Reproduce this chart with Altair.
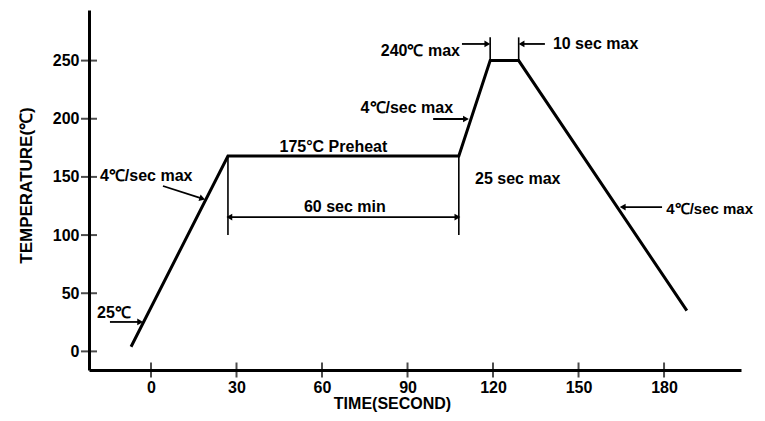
import altair as alt
import pandas as pd

# ---- data ----
profile_time = [-7, 27, 108, 119, 129, 188]
profile_temp = [4, 168, 168, 250, 250, 35]

x_ticks = [0, 30, 60, 90, 120, 150, 180]
y_ticks = [0, 50, 100, 150, 200, 250]

# guide lines (vertical markers)
guide_x1 = [27, 108, 119, 129]
guide_y1 = [168, 168, 250, 250]
guide_y2 = [100, 100, 270, 270]

# arrows: shaft start -> tip, heading angle (degrees, clockwise from right)
arrow_x1 = [-14.4, 4.2, 27, 27, 99, 109.1, 138.2, 179.3]
arrow_y1 = [25.3, 142.2, 115.5, 115.5, 199.8, 264.3, 264.3, 124.1]
arrow_x2 = [-3.8, 18.0, 107.5, 27.5, 110.5, 118.0, 130.0, 165.5]
arrow_y2 = [25.3, 131.3, 115.5, 115.5, 199.8, 264.3, 264.3, 124.1]
arrow_ang = [0, 18, 0, 180, 0, 0, 180, 180]

# annotation texts
note_text = ["25℃", "4℃/sec max", "175°C Preheat", "60 sec min", "25 sec max",
             "4℃/sec max", "240℃ max", "10 sec max"]
note_x = [-18.9, -17.9, 64, 68, 113.7, 106, 108.4, 141]
note_y = [33, 151, 176, 124, 148, 209, 258, 264.3]
note_align = ["left", "left", "center", "center", "left", "right", "right", "left"]

# right-edge annotation (drawn a little smaller so it fits the page)
edge_text = ["4℃/sec max"]
edge_x = [180.8]
edge_y = [122.4]

X_DOMAIN = [-21.75, 207]
Y_DOMAIN = [-16, 293.5]

FONT = "Liberation Sans"

xs = alt.Scale(domain=X_DOMAIN, nice=False, zero=False)
ys = alt.Scale(domain=Y_DOMAIN, nice=False, zero=False)

x_axis = alt.Axis(
    values=x_ticks, title="TIME(SECOND)", ticks=False, grid=False,
    domainColor="black", domainWidth=3, labelPadding=9,
    labelFont=FONT, labelFontWeight="bold", labelFontSize=16, labelColor="black",
    titleFont=FONT, titleFontWeight="bold", titleFontSize=16, titleColor="black",
    titleX=303, titleY=33, titleBaseline="middle", titleAlign="center")
y_axis = alt.Axis(
    values=y_ticks, title="TEMPERATURE(℃)", ticks=False, grid=False,
    domainColor="black", domainWidth=3, labelPadding=10,
    labelFont=FONT, labelFontWeight="bold", labelFontSize=16, labelColor="black",
    titleFont=FONT, titleFontWeight="bold", titleFontSize=17, titleColor="black",
    titleX=-63, titleY=175, titleBaseline="middle", titleAlign="center", titleAngle=270)


def X(field):
    return alt.X(field, scale=xs, axis=x_axis, title="TIME(SECOND)")


def Y(field):
    return alt.Y(field, scale=ys, axis=y_axis, title="TEMPERATURE(℃)")


profile = pd.DataFrame({"t": profile_time, "v": profile_temp})
guides = pd.DataFrame({"x": guide_x1, "y": guide_y1, "y2": guide_y2})
arrows = pd.DataFrame({"x": arrow_x1, "y": arrow_y1, "x2": arrow_x2,
                       "y2": arrow_y2, "ang": arrow_ang})
notes = pd.DataFrame({"label": note_text, "x": note_x, "y": note_y, "align": note_align})
edge = pd.DataFrame({"label": edge_text, "x": edge_x, "y": edge_y})
xt = pd.DataFrame({"t": x_ticks, "base": [Y_DOMAIN[0]] * len(x_ticks)})
yt = pd.DataFrame({"v": y_ticks, "base": [X_DOMAIN[0]] * len(y_ticks)})

line = alt.Chart(profile).mark_line(color="black", strokeWidth=3).encode(
    x=X("t:Q"), y=Y("v:Q"), order=alt.Order("t:Q"))

xtick = alt.Chart(xt).mark_tick(orient="vertical", size=15, thickness=2, color="black").encode(
    x=X("t:Q"), y=Y("base:Q"))
ytick = alt.Chart(yt).mark_tick(orient="horizontal", size=16, thickness=2, color="black").encode(
    y=Y("v:Q"), x=X("base:Q"))

guide = alt.Chart(guides).mark_rule(color="black", strokeWidth=1.6).encode(
    x=X("x:Q"), y=Y("y:Q"), y2="y2:Q")

shaft = alt.Chart(arrows).mark_rule(color="black", strokeWidth=1.8).encode(
    x=X("x:Q"), y=Y("y:Q"), x2="x2:Q", y2="y2:Q")

head = alt.Chart(arrows).mark_point(shape="triangle-right", filled=True, size=45,
                                    color="black", opacity=1).encode(
    x=X("x2:Q"), y=Y("y2:Q"), angle=alt.Angle("ang:Q", scale=None))


def text_layer(al):
    return alt.Chart(notes[notes["align"] == al]).mark_text(
        align=al, baseline="middle", font=FONT, fontWeight="bold", fontSize=16,
        color="black").encode(x=X("x:Q"), y=Y("y:Q"), text="label:N")


edge_layer = alt.Chart(edge).mark_text(
    align="left", baseline="middle", font=FONT, fontWeight="bold", fontSize=15,
    color="black").encode(x=X("x:Q"), y=Y("y:Q"), text="label:N")

chart = alt.layer(
    line, xtick, ytick, guide, shaft, head,
    text_layer("left"), text_layer("center"), text_layer("right"), edge_layer,
).properties(
    width=652, height=360,
    autosize=alt.AutoSizeParams(type="none"),
    padding={"left": 81, "top": 2, "right": 16, "bottom": 43},
    background="white",
).configure_view(stroke=None)

chart.save("out.html", embed_options={"renderer": "svg", "actions": False})
